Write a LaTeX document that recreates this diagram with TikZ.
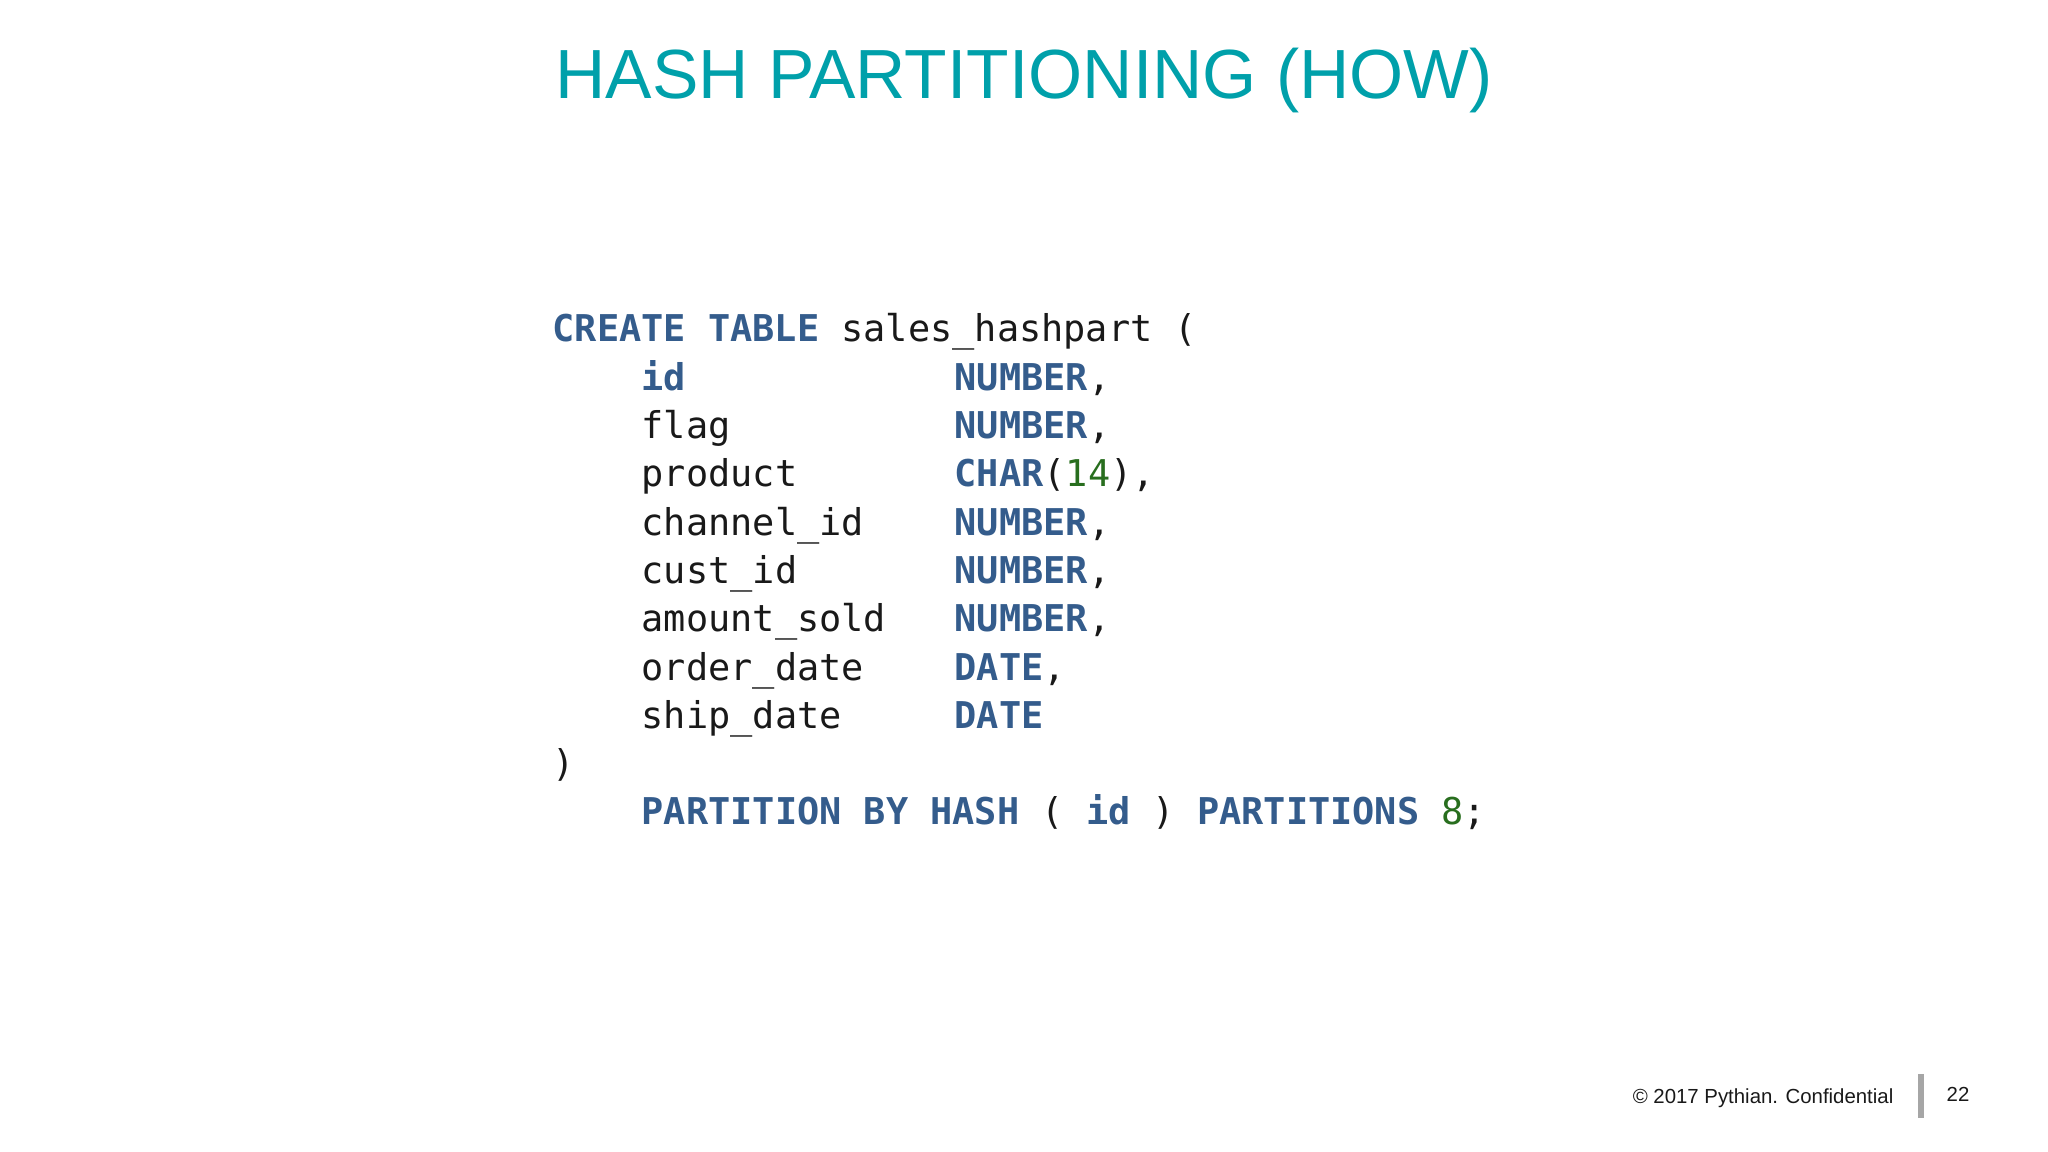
\documentclass[tikz,border=0pt]{standalone}
\usepackage{fontspec}
\setmainfont{Liberation Sans}
\setmonofont{DejaVu Sans Mono}
\definecolor{ttl}{RGB}{0,160,170}
\definecolor{kw}{RGB}{52,92,140}
\definecolor{num}{RGB}{40,110,30}
\definecolor{txt}{RGB}{25,25,25}
\newcommand{\K}[1]{\textbf{\color{kw}#1}}
\newcommand{\N}[1]{{\color{num}#1}}
\begin{document}
\begin{tikzpicture}[x=0.1mm,y=-0.1mm,
  code/.style={anchor=base west,inner sep=0,font=\ttfamily\fontsize{10.5}{12}\selectfont,text=txt}]
\useasboundingbox (0,0) rectangle (2048,1152);
\node[font=\fontsize{19.8}{22}\selectfont,text=ttl] (title) at (1024,81) {HASH PARTITIONING (HOW)};
\def\cz{552}\def\ca{641}\def\cb{954}
\node[code] (l0) at (\cz,342) {\K{CREATE TABLE} sales\_hashpart (};
\foreach \n/\t [count=\i] in {{\K{id}}/{\K{NUMBER},},flag/{\K{NUMBER},},product/{\K{CHAR}(\N{14}),},channel\_id/{\K{NUMBER},},cust\_id/{\K{NUMBER},},amount\_sold/{\K{NUMBER},},order\_date/{\K{DATE},},ship\_date/{\K{DATE}}}{
  \node[code] (n\i) at (\ca,342+\i*48.3) {\n};
  \node[code] (t\i) at (\cb,342+\i*48.3) {\t};
}
\node[code] (l9) at (\cz,342+9*48.3) {)};
\node[code] (l10) at (\ca,342+10*48.3) {\K{PARTITION BY HASH} ( \K{id} ) \K{PARTITIONS} \N{8};};
\node[anchor=base east,inner sep=0,font=\fontsize{5.8}{7}\selectfont,text=txt] (foot) at (1894,1103) {© 2017 Pythian. Confidential};
\draw[gray!70,line width=1.5] (1921,1074) -- (1921,1118);
\node[anchor=base,inner sep=0,font=\fontsize{5.8}{7}\selectfont,text=txt] (pg) at (1958,1101) {22};
\end{tikzpicture}
\end{document}
